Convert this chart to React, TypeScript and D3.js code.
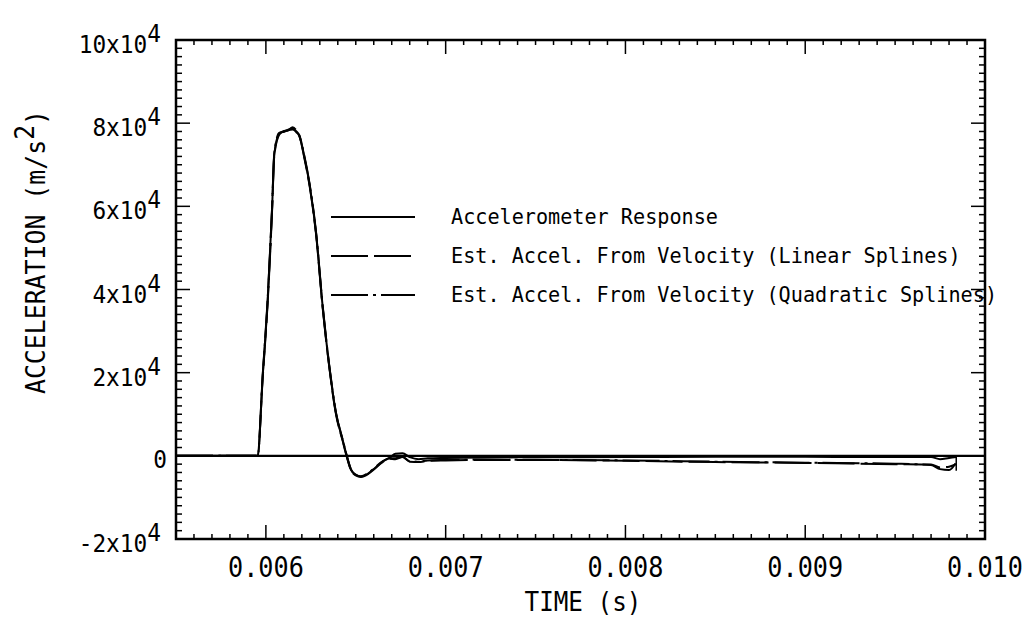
import React from "react";
import * as d3 from "d3";

const times = [0.0055, 0.0059, 0.005954, 0.005982, 0.00601, 0.006034, 0.006047, 0.006075, 0.0061, 0.006121, 0.006149, 0.00617, 0.006186, 0.006214, 0.006242, 0.006279, 0.006316, 0.006353, 0.00639, 0.006427, 0.006446, 0.006474, 0.0065, 0.006529, 0.00656, 0.006594, 0.006649, 0.006687, 0.00672, 0.00676, 0.0068, 0.00685, 0.0069, 0.007, 0.0072, 0.0075, 0.008, 0.0085, 0.009, 0.0095, 0.0097, 0.00975, 0.0098, 0.00984];

const accelerometer = [0, 0, 0, 19000, 37500, 59000, 72700, 77500, 78000, 78300, 78500, 78000, 77100, 71900, 65500, 53600, 35800, 21400, 10200, 3800, 600, -3400, -4600, -5000, -4500, -3400, -1400, -500, 500, 600, -300, -800, -600, -500, -400, -350, -300, -200, -250, -300, -300, -800, -500, -300];
const linearSplines = [0, 0, 0, 18600, 37000, 58500, 72300, 77300, 78100, 78200, 79000, 78200, 77000, 71600, 65200, 53300, 35500, 21200, 10000, 3600, 400, -3500, -4700, -5100, -4600, -3500, -1500, -700, -800, -300, -1400, -1500, -1200, -1100, -1000, -1000, -1200, -1500, -1700, -2000, -2100, -2800, -2600, -2000];
const quadraticSplines = [0, 0, 0, 19300, 37800, 59300, 72900, 77700, 77900, 78400, 78700, 77800, 76900, 72100, 65700, 53800, 36000, 21600, 10400, 3900, 700, -3300, -4500, -4900, -4400, -3300, -1300, -600, -600, -200, -1300, -1400, -1100, -1000, -900, -950, -1100, -1400, -1650, -1900, -2200, -3200, -3400, -1500];

const xTickValues = [0.006, 0.007, 0.008, 0.009, 0.01];
const xTickLabels = ["0.006", "0.007", "0.008", "0.009", "0.010"];
const yTickValues = [100000, 80000, 60000, 40000, 20000, 0, -20000];
const yTickMantissa = ["10", "8", "6", "4", "2", "0", "-2"];

const legendLabels = [
  "Accelerometer Response",
  "Est. Accel. From Velocity (Linear Splines)",
  "Est. Accel. From Velocity (Quadratic Splines)",
];
const dashes = ["none", "37,6", "37,5,3,5"];

const FONT = "'DejaVu Sans Mono', monospace";

export default function App() {
  const L = 176, R = 985, T = 40, B = 539;
  const x = d3.scaleLinear().domain([0.0055, 0.01]).range([L, R]);
  const y = d3.scaleLinear().domain([-20000, 100000]).range([B, T]);
  const line = d3
    .line<number>()
    .x((_, i) => x(times[i]))
    .y((d) => y(d))
    .curve(d3.curveMonotoneX);

  const series = [accelerometer, linearSplines, quadraticSplines];
  const xMinor = d3.range(0, 46).map((i) => 0.0055 + i * 0.0001);
  const yMinor = d3.range(0, 61).map((i) => -20000 + i * 2000);
  const isMajorX = (v: number) => Math.abs(v * 1000 - Math.round(v * 1000)) < 1e-6;
  const isMajorY = (v: number) => v % 20000 === 0;

  return (
    <svg width={1029} height={618} style={{ position: "absolute", left: 0, top: 0, background: "#fff" }}>
      <rect x={0} y={0} width={1029} height={618} fill="#fff" />
      {/* zero line */}
      <line x1={L} x2={R} y1={y(0)} y2={y(0)} stroke="#000" strokeWidth={2.2} />
      {/* curves */}
      {series.map((s, i) => (
        <path key={i} d={line(s) || ""} fill="none" stroke="#000" strokeWidth={2} strokeDasharray={dashes[i]} strokeLinejoin="round" />
      ))}
      {/* end tick mark */}
      <line x1={x(0.00984)} x2={x(0.00984)} y1={y(0)} y2={y(-3600)} stroke="#000" strokeWidth={1.5} />
      {/* x ticks bottom and top */}
      {xMinor.map((v, i) => {
        const len = isMajorX(v) ? 14 : 5;
        return (
          <g key={"xt" + i}>
            <line x1={x(v)} x2={x(v)} y1={B} y2={B - len} stroke="#000" strokeWidth={1.5} />
            <line x1={x(v)} x2={x(v)} y1={T} y2={T + len} stroke="#000" strokeWidth={1.5} />
          </g>
        );
      })}
      {yMinor.map((v, i) => {
        const len = isMajorY(v) ? 14 : 6;
        return (
          <g key={"yt" + i}>
            <line x1={L} x2={L + len} y1={y(v)} y2={y(v)} stroke="#000" strokeWidth={1.5} />
            <line x1={R} x2={R - len} y1={y(v)} y2={y(v)} stroke="#000" strokeWidth={1.5} />
          </g>
        );
      })}
      {/* frame */}
      <rect x={L} y={T} width={R - L} height={B - T} fill="none" stroke="#000" strokeWidth={2.5} />
      {/* x tick labels */}
      {xTickValues.map((v, i) => (
        <text key={"xl" + i} transform={`translate(${x(v)},577) scale(0.9,1)`} textAnchor="middle" fontFamily={FONT} fontSize={28} fill="#000">
          {xTickLabels[i]}
        </text>
      ))}
      {/* y tick labels */}
      {yTickValues.map((v, i) =>
        yTickMantissa[i] === "0" ? (
          <text key={"yl" + i} transform={`translate(167,${y(v) + 12}) scale(0.95,1)`} textAnchor="end" fontFamily={FONT} fontSize={24} fill="#000">
            0
          </text>
        ) : (
          <text key={"yl" + i} transform={`translate(161,${y(v) + 13}) scale(0.95,1)`} textAnchor="end" fontFamily={FONT} fontSize={24} fill="#000">
            {yTickMantissa[i]}x10
            <tspan dy={-11}>4</tspan>
          </text>
        )
      )}
      {/* axis titles */}
      <text transform="translate(583,611) scale(0.9,1)" textAnchor="middle" fontFamily={FONT} fontSize={27} fill="#000">
        TIME (s)
      </text>
      <text transform="translate(45,252) rotate(-90) scale(0.92,1)" textAnchor="middle" fontFamily={FONT} fontSize={27} fill="#000">
        ACCELERATION (m/s<tspan dy={-11}>2</tspan><tspan dy={11}>)</tspan>
      </text>
      {/* legend */}
      {legendLabels.map((lab, i) => {
        const ly = 217 + i * 39;
        return (
          <g key={"lg" + i}>
            <line x1={331} x2={415} y1={ly} y2={ly} stroke="#000" strokeWidth={2} strokeDasharray={dashes[i]} />
            <text transform={`translate(451,${ly + 7}) scale(0.96,1)`} fontFamily={FONT} fontSize={21} fill="#000">
              {lab}
            </text>
          </g>
        );
      })}
    </svg>
  );
}
